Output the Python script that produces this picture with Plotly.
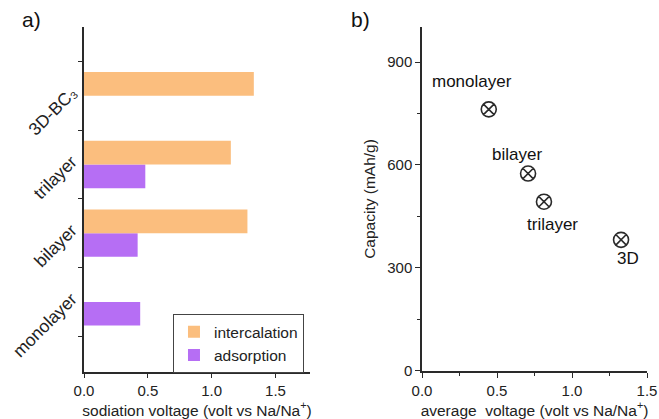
import plotly.graph_objects as go

# ---- data ----
categories = ["monolayer", "bilayer", "trilayer", "3D-BC₃"]
intercalation = [None, 1.28, 1.15, 1.33]
adsorption = [0.44, 0.42, 0.48, None]

avg_voltage = [0.445, 0.707, 0.813, 1.327]
capacity = [762, 575, 493, 382]
point_labels = ["monolayer", "bilayer", "trilayer", "3D"]

ORANGE = "#FBBE7E"
PURPLE = "#B66EF4"
AX = "#2a2a2a"
FONT = "Arial, Liberation Sans, sans-serif"

fig = go.Figure()
fig.add_trace(go.Bar(y=categories, x=adsorption, orientation="h", name="adsorption",
                     marker=dict(color=PURPLE, line=dict(width=0)), xaxis="x", yaxis="y"))
fig.add_trace(go.Bar(y=categories, x=intercalation, orientation="h", name="intercalation",
                     marker=dict(color=ORANGE, line=dict(width=0)), xaxis="x", yaxis="y"))

fig.add_trace(go.Scatter(x=avg_voltage, y=capacity, mode="markers", showlegend=False,
                         marker=dict(symbol="circle-x-open", size=15, color=AX,
                                     line=dict(width=1.6, color=AX)),
                         xaxis="x2", yaxis="y2"))

# point labels (positions relative to data points)
offsets = [(-0.112, 81), (-0.074, 55), (0.054, -67), (0.046, -55)]
for xv, yv, lab, (dx, dy) in zip(avg_voltage, capacity, point_labels, offsets):
    fig.add_annotation(x=xv + dx, y=yv + dy, text=lab, showarrow=False,
                       xref="x2", yref="y2", font=dict(size=17, color="#111", family=FONT))

# panel labels
fig.add_annotation(x=0.030, y=0.985, xref="paper", yref="paper", text="a)", showarrow=False,
                   font=dict(size=21, color="#111", family=FONT), xanchor="left", yanchor="top")
fig.add_annotation(x=0.530, y=0.985, xref="paper", yref="paper", text="b)", showarrow=False,
                   font=dict(size=21, color="#111", family=FONT), xanchor="left", yanchor="top")

axis_common = dict(showline=True, linecolor=AX, linewidth=1.5, ticks="outside",
                   tickcolor=AX, tickwidth=1.3, showgrid=False, zeroline=False,
                   automargin=False)
tickf = dict(size=15, color="#222", family=FONT)
titlef = dict(size=15.5, color="#222", family=FONT)

fig.update_layout(
    width=659, height=419,
    margin=dict(l=0, r=0, t=0, b=0, autoexpand=False),
    paper_bgcolor="white", plot_bgcolor="white",
    barmode="group", bargap=0.31, bargroupgap=0,
    font=dict(family=FONT, color="#222"),
    xaxis=dict(domain=[0.1275, 0.4704], range=[0, 1.77], tickvals=[0, 0.5, 1.0, 1.5],
               ticktext=["0.0", "0.5", "1.0", "1.5"], ticklen=4, anchor="y",
               tickfont=tickf,
               title=dict(text="sodiation voltage (volt vs Na/Na<sup>+</sup>)", font=titlef),
               **axis_common),
    yaxis=dict(domain=[0.1122, 0.9356], type="category", categoryorder="array",
               categoryarray=categories, range=[-1.02, 4.0], tickson="boundaries",
               ticklen=4, tickangle=-45, anchor="x", ticklabelstandoff=7,
               ticklabelshift=-5,
               tickfont=dict(size=17.5, color="#222", family=FONT),
               **axis_common),
    xaxis2=dict(domain=[0.6404, 0.9818], range=[0, 1.5], tickvals=[0, 0.5, 1.0, 1.5],
                ticktext=["0.0", "0.5", "1.0", "1.5"], ticklen=5, anchor="y2",
                tickfont=tickf,
                minor=dict(dtick=0.25, ticks="outside", ticklen=3, tickcolor=AX),
                title=dict(text="average  voltage (volt vs Na/Na<sup>+</sup>)", font=titlef),
                **axis_common),
    yaxis2=dict(domain=[0.1146, 0.9356], range=[0, 1002], tickvals=[0, 300, 600, 900],
                ticklen=5, anchor="x2", tickfont=tickf,
                minor=dict(dtick=150, ticks="outside", ticklen=3, tickcolor=AX),
                title=dict(text="Capacity (mAh/g)", font=titlef, standoff=8),
                **axis_common),
    legend=dict(x=0.2625, y=0.25, xanchor="left", yanchor="top", traceorder="reversed",
                bordercolor="#444", borderwidth=1, bgcolor="white",
                font=dict(size=15.5, color="#222", family=FONT),
                itemwidth=30, tracegroupgap=0),
)

fig.write_html("out.html", config={"displayModeBar": False},
               post_script="document.body.style.margin='0px';")
